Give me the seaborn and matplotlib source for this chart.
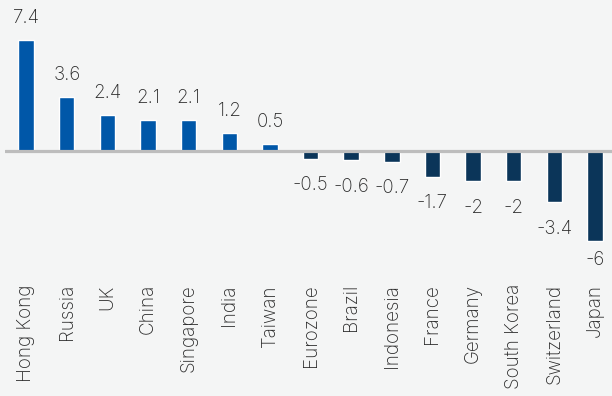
import matplotlib
matplotlib.use("Agg")
import matplotlib.pyplot as plt
import seaborn as sns
import pandas as pd

# Categories and values
countries = ["Hong Kong", "Russia", "UK", "China", "Singapore", "India", "Taiwan",
             "Eurozone", "Brazil", "Indonesia", "France", "Germany", "South Korea",
             "Switzerland", "Japan"]
values = [7.4, 3.6, 2.4, 2.1, 2.1, 1.2, 0.5,
          -0.5, -0.6, -0.7, -1.7, -2, -2, -3.4, -6]
value_labels = ["7.4", "3.6", "2.4", "2.1", "2.1", "1.2", "0.5",
                "-0.5", "-0.6", "-0.7", "-1.7", "-2", "-2", "-3.4", "-6"]

POS_COLOR = "#0057A8"
NEG_COLOR = "#0B3559"
BG = "#F4F5F5"
TEXT = "#2A2A2A"

sns.set_theme(style="white")
plt.rcParams["font.family"] = ["Inter", "DejaVu Sans"]

df = pd.DataFrame({"country": countries, "value": values})
df["sign"] = ["pos" if v >= 0 else "neg" for v in values]

fig = plt.figure(figsize=(6.12, 3.96), dpi=100, facecolor=BG)
ax = fig.add_axes([5 / 612, (396 - 280) / 396, 607 / 612, 280 / 396])
ax.set_facecolor(BG)

sns.barplot(data=df, x="country", y="value", hue="sign",
            palette={"pos": POS_COLOR, "neg": NEG_COLOR}, saturation=1,
            width=0.38, dodge=False, legend=False, ax=ax, zorder=2)

ax.axhline(0, color="#BDBDBD", lw=2.3, zorder=3)

# value labels: above positive bars, below negative bars (kept inside the plot)
for i, (v, lab) in enumerate(zip(values, value_labels)):
    y = v + 1.13 if v >= 0 else max(v - 2.13, -7.6)
    ax.text(i, y, lab, ha="center", va="baseline", fontsize=13.5,
            color=TEXT, fontweight="light")

ax.set_xlim(-0.52, 14.42)
ax.set_ylim(-(280 - 151) / 15, 151 / 15)
ax.set_xlabel("")
ax.set_ylabel("")
ax.set_yticks([])
ax.tick_params(axis="x", length=0, pad=3)
plt.setp(ax.get_xticklabels(), rotation=90, fontsize=13.5, color=TEXT,
         fontweight="light")
for s in ax.spines.values():
    s.set_visible(False)

fig.savefig("out.png", dpi=100, facecolor=BG)
